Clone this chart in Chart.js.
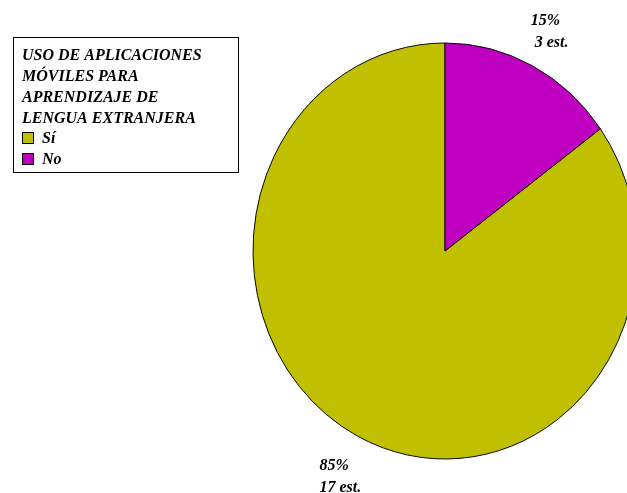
<!DOCTYPE html>
<html>
<head>
<meta charset="utf-8">
<script src="https://cdn.jsdelivr.net/npm/chart.js@4/dist/chart.umd.min.js"></script>
<style>
  html, body { margin: 0; padding: 0; background: #fff; overflow: hidden; }
  #wrap { width: 627px; height: 493px; position: relative; }
</style>
</head>
<body>
<div id="wrap"><canvas id="c" width="627" height="493"></canvas></div>
<script>
// ---- data ----
const legendTitle = ['USO DE APLICACIONES', 'MÓVILES PARA', 'APRENDIZAJE DE', 'LENGUA EXTRANJERA'];
const categories = ['Sí', 'No'];
const counts = [17, 3];
const colors = ['#C0C000', '#C000C0'];

const FONT = 'italic bold 16px "Liberation Serif", "DejaVu Serif", serif';
const SX = 192 / 208; // horizontal squash (ellipse)

const total = counts.reduce((a, b) => a + b, 0);

const squash = {
  id: 'squash',
  beforeDatasetsDraw(chart) {
    const meta = chart.getDatasetMeta(0);
    const cx = meta.data[0].x;
    const ctx = chart.ctx;
    ctx.save();
    ctx.translate(cx, 0);
    ctx.scale(SX, 1);
    ctx.translate(-cx, 0);
  },
  afterDatasetsDraw(chart) {
    chart.ctx.restore();
  }
};

const labelsPlugin = {
  id: 'sliceLabels',
  afterDatasetsDraw(chart) {
    const ctx = chart.ctx;
    const meta = chart.getDatasetMeta(0);
    ctx.save();
    ctx.font = FONT;
    ctx.fillStyle = '#000';
    ctx.textBaseline = 'middle';
    ctx.textAlign = 'left';
    meta.data.forEach((arc, i) => {
      const mid = (arc.startAngle + arc.endAngle) / 2;
      const R = arc.outerRadius * 1.2;
      const px = arc.x + Math.cos(mid) * R * SX;
      const py = arc.y + Math.sin(mid) * R + 3;
      const pct = Math.round(counts[i] / total * 100);
      const lines = [pct + '%', String(counts[i]).padStart(2, ' ') + ' est.'];
      const w = Math.max(...lines.map(l => ctx.measureText(l).width));
      const lh = 22;
      const x0 = px - w / 2;
      const y0 = py - lh / 2;
      lines.forEach((l, k) => ctx.fillText(l, x0, y0 + k * lh));
    });
    ctx.restore();
  }
};

const legendPlugin = {
  id: 'boxLegend',
  afterDraw(chart) {
    const ctx = chart.ctx;
    ctx.save();
    const bx = 13.5, by = 37.5, bw = 225, bh = 135;
    ctx.fillStyle = '#fff';
    ctx.fillRect(bx, by, bw, bh);
    ctx.strokeStyle = '#000';
    ctx.lineWidth = 1;
    ctx.strokeRect(bx, by, bw, bh);
    ctx.font = FONT;
    ctx.fillStyle = '#000';
    ctx.textBaseline = 'middle';
    ctx.textAlign = 'left';
    const lh = 21;
    let y = 55.5;
    legendTitle.forEach(t => { ctx.fillText(t, 22, y); y += lh; });
    y = 138;
    categories.forEach((c, i) => {
      ctx.fillStyle = colors[i];
      ctx.fillRect(22, y - 6, 12, 12);
      ctx.strokeStyle = '#000';
      ctx.strokeRect(22.5, y - 5.5, 11, 11);
      ctx.fillStyle = '#000';
      ctx.fillText(c, 42, y + 1);
      y += 21;
    });
    ctx.restore();
  }
};

new Chart(document.getElementById('c'), {
  type: 'pie',
  data: {
    labels: categories,
    datasets: [{
      data: counts,
      backgroundColor: colors,
      borderColor: '#000',
      borderWidth: 1,
      clip: false
    }]
  },
  options: {
    responsive: false,
    animation: false,
    events: [],
    rotation: 54,
    radius: 208,
    layout: { padding: { left: 263, right: 0, top: 43, bottom: 34 } },
    plugins: { legend: { display: false }, tooltip: { enabled: false } }
  },
  plugins: [squash, labelsPlugin, legendPlugin]
});
</script>
</body>
</html>
